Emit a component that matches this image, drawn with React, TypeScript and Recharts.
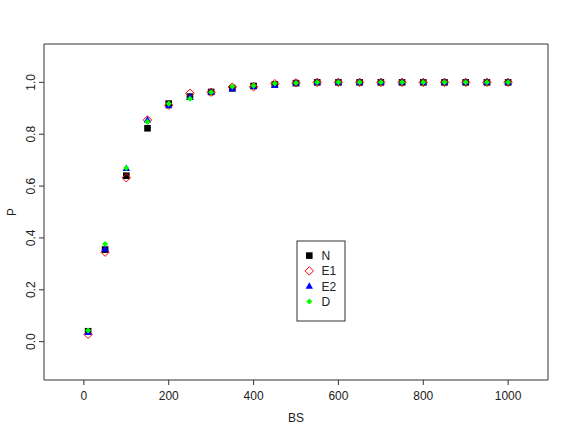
import React from "react";
import {
  ScatterChart,
  Scatter,
  XAxis,
  YAxis,
  ReferenceArea,
  Customized,
  Label,
} from "recharts";

// BS values on the x axis
const bs = [
  10, 50, 100, 150, 200, 250, 300, 350, 400, 450, 500, 550, 600, 650, 700,
  750, 800, 850, 900, 950, 1000,
];

// P for each method
const pN = [
  0.04, 0.355, 0.64, 0.823, 0.918, 0.945, 0.963, 0.977, 0.986, 0.992, 0.997,
  1, 1, 1, 1, 1, 1, 1, 1, 1, 1,
];
const pE1 = [
  0.028, 0.345, 0.632, 0.855, 0.912, 0.958, 0.962, 0.982, 0.983, 0.995, 0.998,
  1, 1, 1, 1, 1, 1, 1, 1, 1, 1,
];
const pE2 = [
  0.035, 0.357, 0.668, 0.855, 0.91, 0.944, 0.963, 0.975, 0.984, 0.988, 0.998,
  1, 1, 1, 1, 1, 1, 1, 1, 1, 1,
];
const pD = [
  0.043, 0.377, 0.67, 0.848, 0.918, 0.937, 0.962, 0.984, 0.987, 0.996, 0.998,
  1, 1, 1, 1, 1, 1, 1, 1, 1, 1,
];

const xTicks = [0, 200, 400, 600, 800, 1000];
const yTicks = [0, 0.2, 0.4, 0.6, 0.8, 1.0];
const legendNames = ["N", "E1", "E2", "D"];

const FONT = '"Liberation Sans", Arial, Helvetica, sans-serif';
const INK = "#222";

const toPoints = (ys: number[]) => bs.map((x, i) => ({ x, y: ys[i] }));

const Square = ({ cx, cy }: any) => (
  <rect x={cx - 3.3} y={cy - 3.3} width={6.6} height={6.6} fill="#000" />
);

const OpenDiamond = ({ cx, cy }: any) => (
  <polygon
    points={`${cx},${cy - 4.2} ${cx + 4.2},${cy} ${cx},${cy + 4.2} ${cx - 4.2},${cy}`}
    fill="none"
    stroke="#ff0000"
    strokeWidth={1}
  />
);

const Triangle = ({ cx, cy }: any) => (
  <polygon
    points={`${cx},${cy - 4} ${cx + 3.7},${cy + 2.5} ${cx - 3.7},${cy + 2.5}`}
    fill="#0000ff"
  />
);

const SmallDiamond = ({ cx, cy }: any) => (
  <polygon
    points={`${cx},${cy - 3} ${cx + 3},${cy} ${cx},${cy + 3} ${cx - 3},${cy}`}
    fill="#00ff00"
  />
);

const shapes = [Square, OpenDiamond, Triangle, SmallDiamond];

const YTick = ({ x, y, payload }: any) => {
  const bx = x - 1.5;
  return (
    <text
      x={bx}
      y={y}
      transform={`rotate(-90, ${bx}, ${y})`}
      textAnchor="middle"
      fontSize={12}
      fontFamily={FONT}
      fill={INK}
    >
      {Number(payload.value).toFixed(1)}
    </text>
  );
};

const XTick = ({ x, y, payload }: any) => (
  <text
    x={x}
    y={y + 12.5}
    textAnchor="middle"
    fontSize={12}
    fontFamily={FONT}
    fill={INK}
  >
    {payload.value}
  </text>
);

const LegendBox = () => {
  const left = 297;
  const top = 241;
  return (
    <g>
      <rect x={left} y={top} width={48} height={80} fill="#fff" stroke="#333" />
      {legendNames.map((name, i) => {
        const Shape = shapes[i];
        const cy = 255.6 + i * 15.3;
        return (
          <g key={name}>
            <Shape cx={309.3} cy={cy} />
            <text
              x={321.5}
              y={cy + 4.3}
              fontSize={12}
              fontFamily={FONT}
              fill={INK}
            >
              {name}
            </text>
          </g>
        );
      })}
    </g>
  );
};

export default function App() {
  return (
    <div style={{ position: "absolute", left: 0, top: 0, background: "#fff" }}>
      <ScatterChart
        width={572}
        height={436}
        margin={{ top: 44, right: 24, bottom: 0, left: 0 }}
      >
        <XAxis
          type="number"
          dataKey="x"
          domain={[-94, 1094]}
          ticks={xTicks}
          allowDataOverflow
          axisLine={false}
          tickLine={{ stroke: "#333" }}
          tickSize={5}
          height={56}
          tick={<XTick />}
        >
          <Label
            content={() => (
              <text
                x={296}
                y={422}
                textAnchor="middle"
                fontSize={12}
                fontFamily={FONT}
                fill={INK}
              >
                BS
              </text>
            )}
          />
        </XAxis>
        <YAxis
          type="number"
          dataKey="y"
          domain={[-0.148, 1.148]}
          ticks={yTicks}
          allowDataOverflow
          axisLine={false}
          tickLine={{ stroke: "#333" }}
          tickSize={5}
          width={44}
          tick={<YTick />}
        >
          <Label
            content={() => (
              <text
                x={16}
                y={212}
                transform="rotate(-90, 16, 212)"
                textAnchor="middle"
                fontSize={12}
                fontFamily={FONT}
                fill={INK}
              >
                P
              </text>
            )}
          />
        </YAxis>
        <ReferenceArea
          x1={-94}
          x2={1094}
          y1={-0.148}
          y2={1.148}
          fill="none"
          stroke="#333"
          strokeWidth={1}
          ifOverflow="visible"
        />
        <Scatter name="N" data={toPoints(pN)} shape={Square} isAnimationActive={false} />
        <Scatter name="E1" data={toPoints(pE1)} shape={OpenDiamond} isAnimationActive={false} />
        <Scatter name="E2" data={toPoints(pE2)} shape={Triangle} isAnimationActive={false} />
        <Scatter name="D" data={toPoints(pD)} shape={SmallDiamond} isAnimationActive={false} />
        <Customized component={LegendBox} />
      </ScatterChart>
    </div>
  );
}
